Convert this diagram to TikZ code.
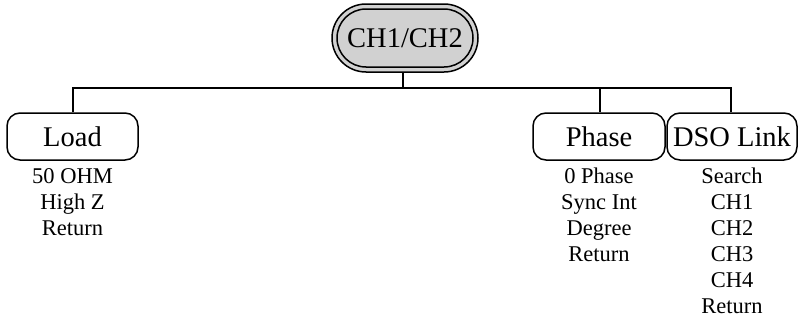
\documentclass[tikz,border=0pt]{standalone}
\usepackage{fontspec}
\setmainfont{Liberation Serif}
\begin{document}
\begin{tikzpicture}[x=1pt,y=-1pt,
  menubox/.style={draw,line width=1.5pt,rounded corners=13pt,minimum height=47pt,inner sep=0pt,font=\fontsize{28.5}{30}\selectfont},
  sublist/.style={anchor=north,align=center,inner sep=0pt,font=\fontsize{22.5}{26}\selectfont},
  link/.style={line width=1.5pt}]
\useasboundingbox (0,0) rectangle (802,324);
% top node
\node[draw,line width=1.5pt,fill=black!18,rounded corners=34pt,minimum width=146pt,minimum height=68pt,inner sep=0pt] (top) at (405,38) {};
\node[draw,line width=1.5pt,fill=black!18,rounded corners=29pt,minimum width=136pt,minimum height=58pt,inner sep=0pt,font=\fontsize{28.5}{30}\selectfont] (topin) at (405,38) {CH1/CH2};
% menu boxes
\node[menubox,minimum width=131pt] (load) at (72.5,136.5) {Load};
\node[menubox,minimum width=132pt] (phase) at (599,136.5) {Phase};
\node[menubox,minimum width=130pt] (dso) at (732,136.5) {DSO Link};
% bus
\coordinate (bus) at (403,88);
\coordinate (busL) at (73,88);
\coordinate (busP) at (600,88);
\coordinate (busD) at (731,88);
\draw[link] (top.south -| bus) -- (bus);
\draw[link] (load.north -| busL) -- (busL) -- (busD) -- (dso.north -| busD);
\draw[link] (busP) -- (phase.north -| busP);
% sub-lists
\node[sublist] (loadlist) at (72.5,168) {50 OHM\\High Z\\Return};
\node[sublist] (phaselist) at (599,168) {0 Phase\\Sync Int\\Degree\\Return};
\node[sublist] (dsolist) at (732,168) {Search\\CH1\\CH2\\CH3\\CH4\\Return};
\end{tikzpicture}
\end{document}
